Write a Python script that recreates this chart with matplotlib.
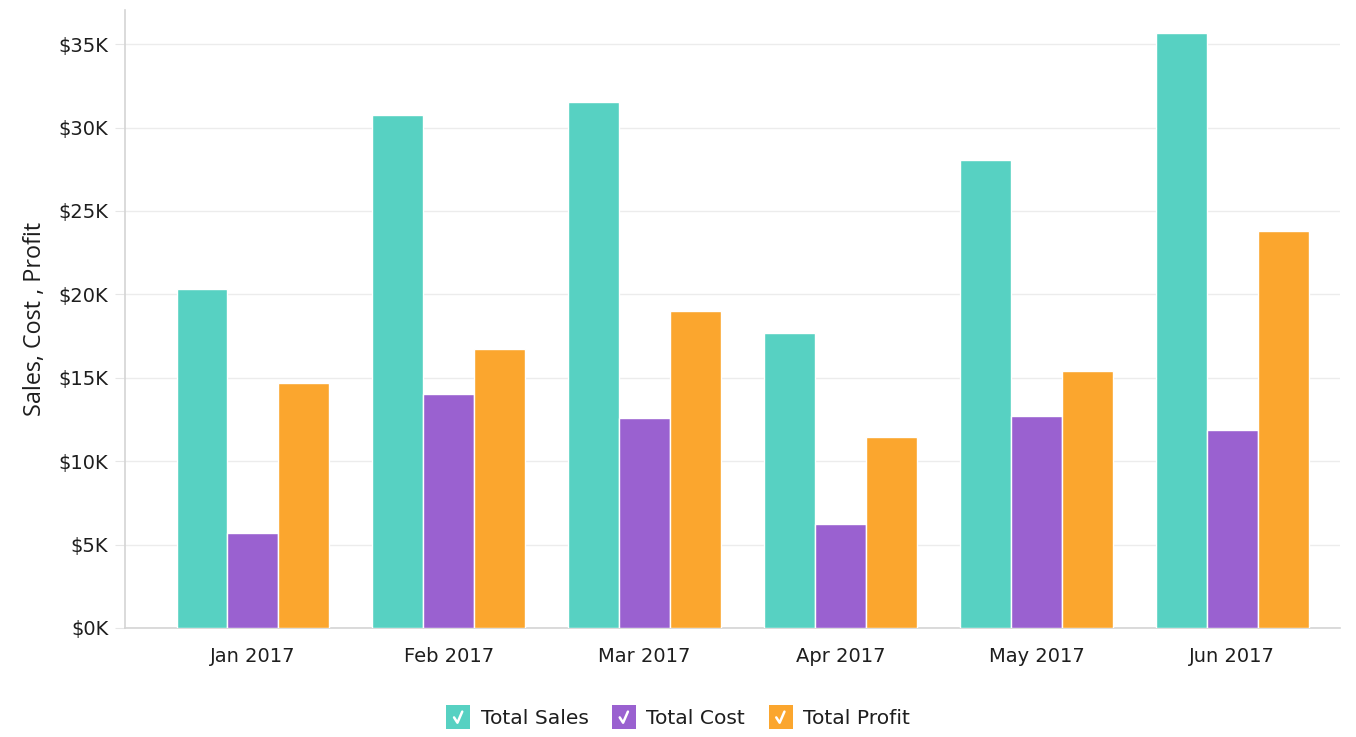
import matplotlib
matplotlib.use('Agg')
import matplotlib.pyplot as plt
import numpy as np
from matplotlib.patches import Rectangle
from matplotlib.lines import Line2D
from matplotlib.legend_handler import HandlerPatch
from matplotlib.ticker import FuncFormatter

# data
months = ['Jan 2017', 'Feb 2017', 'Mar 2017', 'Apr 2017', 'May 2017', 'Jun 2017']
total_sales = [20300, 30750, 31550, 17700, 28080, 35650]
total_cost = [5680, 14040, 12600, 6240, 12680, 11900]
total_profit = [14700, 16730, 19020, 11470, 15400, 23800]
series_names = ['Total Sales', 'Total Cost', 'Total Profit']
colors = ['#57d1c2', '#9a61d0', '#fba62e']


class CheckboxHandler(HandlerPatch):
    # square with a white tick, like the legend in the original
    def create_artists(self, legend, orig_handle, xdescent, ydescent,
                       width, height, fontsize, trans):
        s = height * 1.7
        x0 = -xdescent + (width - s) / 2
        y0 = -ydescent + (height - s) / 2
        box = Rectangle((x0, y0), s, s, facecolor=orig_handle.get_facecolor(),
                        edgecolor='none', transform=trans)
        tick = Line2D([x0 + s * 0.32, x0 + s * 0.46, x0 + s * 0.66],
                      [y0 + s * 0.50, y0 + s * 0.28, y0 + s * 0.74],
                      color='white', lw=1.8, solid_capstyle='round',
                      solid_joinstyle='round', transform=trans)
        return [box, tick]


fig = plt.figure(figsize=(13.56, 7.37), dpi=100, facecolor='white')
ax = fig.add_axes([125 / 1356, 109 / 737, 1215 / 1356, 618 / 737])

x = np.arange(len(months))
bw = 0.26
data = [total_sales, total_cost, total_profit]
handles = []
for i, (vals, c, name) in enumerate(zip(data, colors, series_names)):
    ax.bar(x + (i - 1) * bw, vals, width=bw, color=c, edgecolor='white',
           linewidth=1, label=name, zorder=3)
    handles.append(Rectangle((0, 0), 1, 1, facecolor=c))

ax.set_xlim(-0.653, 5.55)
ax.set_ylim(0, 37050)
ax.set_yticks(np.arange(0, 35001, 5000))
ax.yaxis.set_major_formatter(FuncFormatter(lambda v, p: f'${int(v / 1000)}K'))
ax.set_xticks(x)
ax.set_xticklabels(months)

ax.grid(axis='y', color='#ececec', linewidth=1, zorder=0)
for side in ['top', 'right']:
    ax.spines[side].set_visible(False)
ax.spines['left'].set_color('#d4d4d4')
ax.spines['bottom'].set_color('#d4d4d4')
ax.spines['left'].set_linewidth(1.2)
ax.spines['bottom'].set_linewidth(1.2)

ax.tick_params(axis='y', length=7, color='#e6e6e6', pad=5,
               labelsize=14, labelcolor='#1e1e1e')
ax.tick_params(axis='x', length=0, pad=14, labelsize=14, labelcolor='#1e1e1e')
for lab in ax.get_xticklabels() + ax.get_yticklabels():
    lab.set_family('DejaVu Sans')

ax.set_ylabel('Sales, Cost , Profit', fontsize=16.8, family='Open Sans',
              color='#1e1e1e', labelpad=8)

leg = fig.legend(handles, series_names, loc='center', ncol=3, frameon=False,
                 handler_map={Rectangle: CheckboxHandler()},
                 prop={'family': 'DejaVu Sans', 'size': 14.6}, handlelength=1.2,
                 handletextpad=0.5, columnspacing=1.15)
for t in leg.get_texts():
    t.set_color('#1e1e1e')
leg.set_bbox_to_anchor((0.5, 1 - 719 / 737), transform=fig.transFigure)

fig.savefig('out.png', dpi=100, facecolor='white')
plt.close()
